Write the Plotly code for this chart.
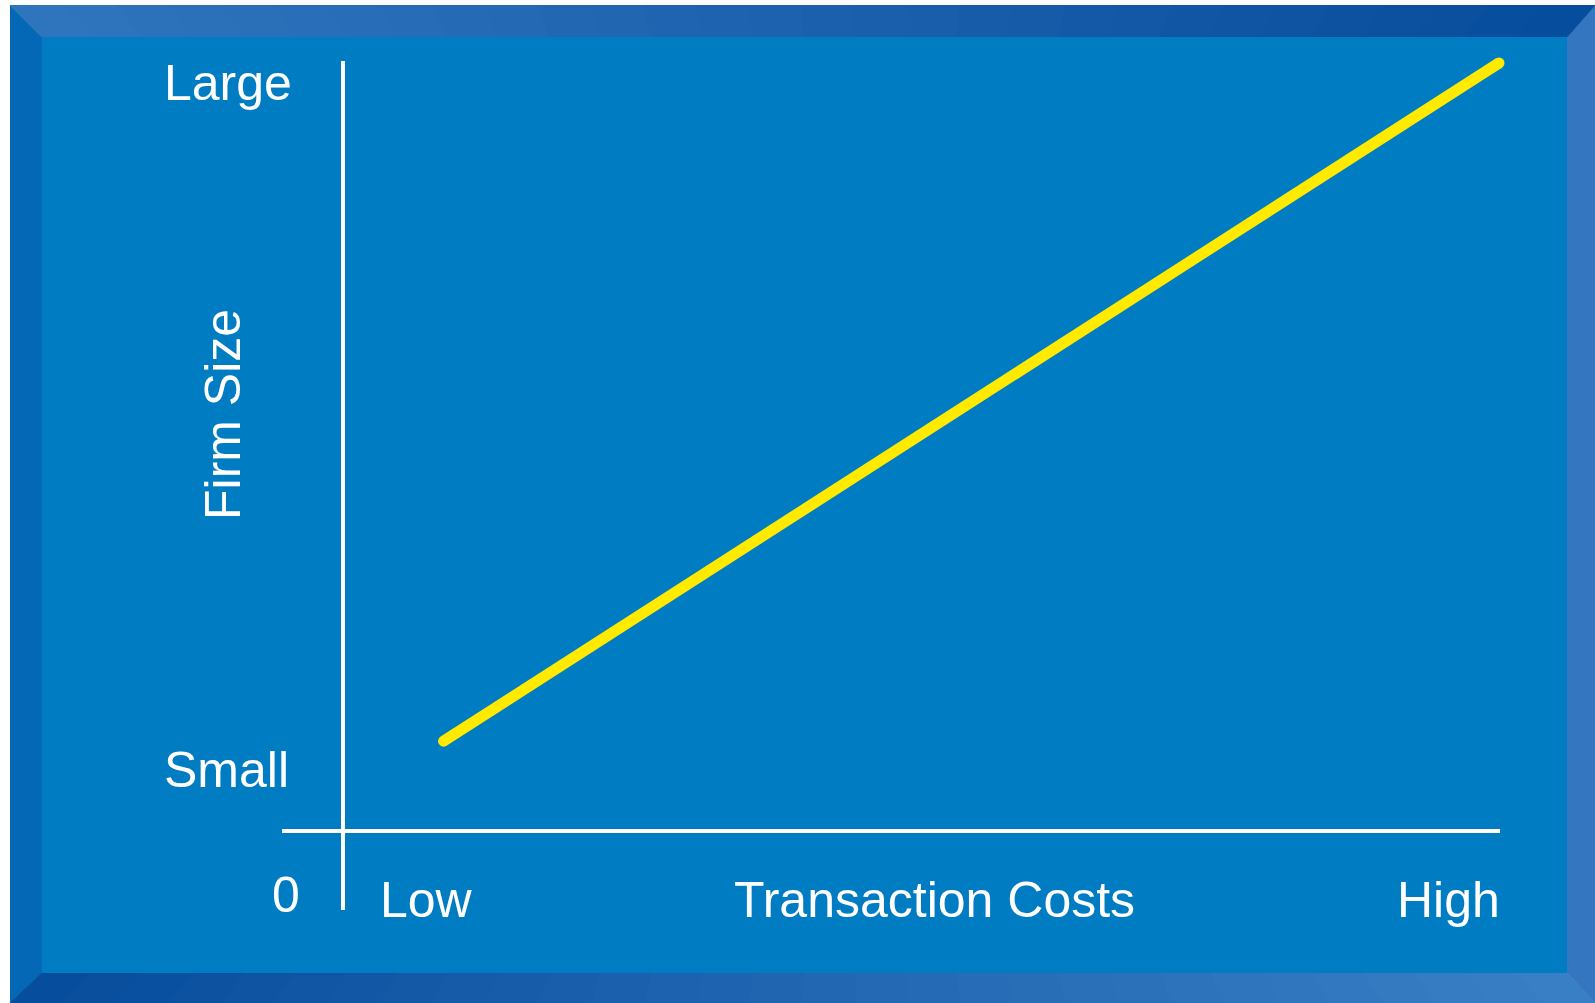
import plotly.graph_objects as go

# ---- data ----
cost_x = [0.87, 10.0]          # transaction costs (Low -> High)
size_y = [1.17, 10.0]          # firm size (Small -> Large)
y_labels = ["Large", "Small"]
x_labels = ["Low", "Transaction Costs", "High"]
origin_label = "0"
y_title = "Firm Size"

W, H = 1595, 1003
X0, X10 = 343, 1499      # pixel of x=0 and x=10
Y0, Y10 = 831, 63        # pixel (from top) of y=0 and y=10
pxx = (X10 - X0) / 10.0
pxy = (Y0 - Y10) / 10.0

def px(x):
    return x / W

def py(y):
    return 1 - y / H

fig = go.Figure()
fig.add_trace(go.Scatter(
    x=cost_x, y=size_y, mode="lines+markers",
    line=dict(color="#FFEA00", width=11),
    marker=dict(color="#FFEA00", size=11),
    hoverinfo="skip", showlegend=False))

shapes = []
shapes.append(dict(type="rect", xref="paper", yref="paper", x0=0, x1=1, y0=0, y1=1,
                   fillcolor="white", line=dict(width=0), layer="below"))
OL, OT, OR, OB = 10, 5, 1595, 1003
IL, IT, IR, IB = 42, 37, 1567, 973

def poly(pts, color):
    d = "M " + " L ".join(f"{px(a):.5f},{py(b):.5f}" for a, b in pts) + " Z"
    return dict(type="path", xref="paper", yref="paper", path=d,
                fillcolor=color, line=dict(width=0), layer="below")

def lerp(c1, c2, t):
    return "rgb(" + ",".join(str(int(round(a + (b - a) * t))) for a, b in zip(c1, c2)) + ")"

# inner
shapes.append(poly([(IL, IT), (IR, IT), (IR, IB), (IL, IB)], "rgb(0,124,194)"))
# left bevel
shapes.append(poly([(OL, OT), (IL, IT), (IL, IB), (OL, OB)], "rgb(5,104,182)"))
# right bevel
shapes.append(poly([(OR, OT), (IR, IT), (IR, IB), (OR, OB)], "rgb(52,118,192)"))
# top / bottom bevel gradients
N = 30
top_l, top_r = (48, 118, 190), (6, 76, 156)
bot_l, bot_r = (6, 76, 156), (58, 128, 198)
for i in range(N):
    t0, t1 = i / N, (i + 1) / N
    ox0, ox1 = OL + (OR - OL) * t0, OL + (OR - OL) * t1
    ix0, ix1 = IL + (IR - IL) * t0, IL + (IR - IL) * t1
    pad = 0.6
    shapes.append(poly([(ox0 - pad, OT), (ox1 + pad, OT), (ix1 + pad, IT), (ix0 - pad, IT)],
                       lerp(top_l, top_r, (t0 + t1) / 2)))
    shapes.append(poly([(ix0 - pad, IB), (ix1 + pad, IB), (ox1 + pad, OB), (ox0 - pad, OB)],
                       lerp(bot_l, bot_r, (t0 + t1) / 2)))

# axes lines (data coords)
shapes.append(dict(type="line", xref="x", yref="y", x0=0, x1=0,
                   y0=-(910 - Y0) / pxy, y1=(Y0 - 61) / pxy,
                   line=dict(color="white", width=4), layer="above"))
shapes.append(dict(type="line", xref="x", yref="y", x0=(282 - X0) / pxx, x1=(1500 - X0) / pxx,
                   y0=0, y1=0, line=dict(color="white", width=4), layer="above"))

FONT = dict(family="Liberation Sans, Arial, sans-serif", size=50, color="white")
ann = []
def text(t, x, y, xa="center", ya="middle", angle=0):
    ann.append(dict(text=t, x=px(x), y=py(y), xref="paper", yref="paper",
                    xanchor=xa, yanchor=ya, showarrow=False, font=FONT, textangle=angle))

text(y_labels[0], 294, 83, xa="right")
text(y_labels[1], 291, 770, xa="right")
text(y_title, 223, 415, angle=-90)
text(origin_label, 286, 895)
text(x_labels[0], 378, 900, xa="left")
text(x_labels[1], 934, 900)
text(x_labels[2], 1502, 900, xa="right")

fig.update_layout(
    width=W, height=H, margin=dict(l=0, r=0, t=0, b=0),
    paper_bgcolor="white", plot_bgcolor="rgba(0,0,0,0)",
    shapes=shapes, annotations=ann,
    xaxis=dict(range=[-X0 / pxx, (W - X0) / pxx], visible=False, fixedrange=True),
    yaxis=dict(range=[-(H - Y0) / pxy, 10 + Y10 / pxy], visible=False, fixedrange=True),
)

fig.write_html("out.html", config={"displayModeBar": False},
               post_script="document.body.style.margin='0';document.body.style.overflow='hidden';")
